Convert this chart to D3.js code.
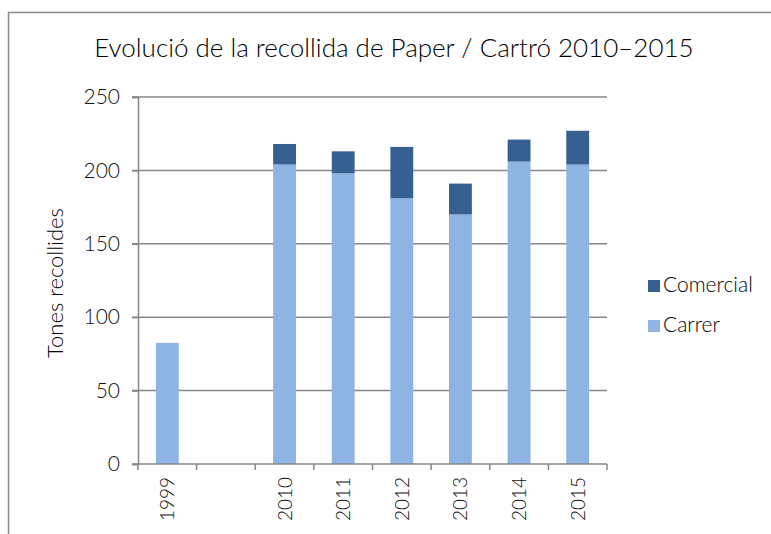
<!DOCTYPE html>
<html>
<head>
<meta charset="utf-8">
<script src="https://cdn.jsdelivr.net/npm/d3@7"></script>
<style>
	body { margin: 0; background: #fff; }
	svg { display: block; font-family: "Lato", sans-serif; font-weight: 300; }
</style>
</head>
<body>
<script>
const w = 771;
const h = 534;

const years = ["1999", "", "2010", "2011", "2012", "2013", "2014", "2015"];
const carrer = [82.5, 0, 204, 198, 181, 170, 206, 204];
const comercial = [0, 0, 14, 15, 35, 21, 15, 23];
const yTicks = [0, 50, 100, 150, 200, 250];
const seriesNames = ["Comercial", "Carrer"];
const colors = { Carrer: "#8eb4e3", Comercial: "#366092" };

const rows = years.map((y, i) => ({ year: y, Carrer: carrer[i], Comercial: comercial[i] }));

const plot = { left: 138, right: 607, top: 97, bottom: 464 };

const svg = d3.select("body").append("svg").attr("width", w).attr("height", h);

// * frame
svg.append("rect")
	.attr("x", 8.5).attr("y", 12.5)
	.attr("width", w).attr("height", h)
	.attr("fill", "none").attr("stroke", "#8c8c8c").attr("stroke-width", 1.5);

// * title
svg.append("text")
	.attr("x", 394).attr("y", 57)
	.attr("text-anchor", "middle")
	.attr("font-size", 26)
	.attr("fill", "#000")
	.text("Evolució de la recollida de Paper / Cartró 2010–2015");

// * scales
const xScale = d3.scaleBand()
	.domain(d3.range(years.length))
	.range([plot.left, plot.right])
	.paddingInner(0.61)
	.paddingOuter(0.305);

const yScale = d3.scaleLinear().domain([0, 250]).range([plot.bottom, plot.top]);

// * grid
svg.append("g")
	.selectAll("line")
	.data(yTicks.slice(1))
	.enter()
	.append("line")
	.attr("x1", plot.left - 6).attr("x2", plot.right)
	.attr("y1", (d) => yScale(d)).attr("y2", (d) => yScale(d))
	.attr("stroke", "#878787").attr("stroke-width", 1.5);

// * y axis
const yAxis = d3.axisLeft(yScale).tickValues(yTicks).tickSize(6).tickPadding(12);
const gy = svg.append("g").attr("transform", "translate(" + plot.left + ",0)").call(yAxis);
gy.selectAll("path, line").attr("stroke", "#878787").attr("stroke-width", 1.5);
gy.selectAll("text").attr("font-size", 21).attr("fill", "#111").attr("font-family", "Lato").attr("font-weight", 300);

// * bars
const stack = d3.stack().keys(["Carrer", "Comercial"]);
svg.append("g")
	.selectAll("g")
	.data(stack(rows))
	.enter()
	.append("g")
	.attr("fill", (d) => colors[d.key])
	.selectAll("rect")
	.data((d) => d)
	.enter()
	.append("rect")
	.attr("x", (d, i) => xScale(i))
	.attr("width", xScale.bandwidth())
	.attr("y", (d) => yScale(d[1]))
	.attr("height", (d) => yScale(d[0]) - yScale(d[1]));

// * x axis
const step = xScale.step();
const gx = svg.append("g").attr("transform", "translate(0," + plot.bottom + ")");
gx.append("line")
	.attr("x1", plot.left - 6).attr("x2", plot.right)
	.attr("stroke", "#878787").attr("stroke-width", 1.5);
gx.selectAll("line.tick")
	.data(d3.range(years.length + 1))
	.enter()
	.append("line")
	.attr("class", "tick")
	.attr("x1", (d) => plot.left + d * step).attr("x2", (d) => plot.left + d * step)
	.attr("y1", 0).attr("y2", 6)
	.attr("stroke", "#878787").attr("stroke-width", 1.5);
gx.selectAll("text")
	.data(years)
	.enter()
	.append("text")
	.attr("transform", (d, i) => "translate(" + (xScale(i) + xScale.bandwidth() / 2 + 7) + ",13) rotate(-90)")
	.attr("text-anchor", "end")
	.attr("font-size", 19)
	.attr("fill", "#111")
	.text((d) => d);

// * y label
svg.append("text")
	.attr("transform", "translate(63,283) rotate(-90)")
	.attr("text-anchor", "middle")
	.attr("font-size", 22)
	.attr("fill", "#000")
	.text("Tones recollides");

// * legend
const legend = svg.append("g")
	.selectAll("g")
	.data(seriesNames)
	.enter()
	.append("g")
	.attr("transform", (d, i) => "translate(648," + (280 + i * 40) + ")");
legend.append("rect").attr("width", 12).attr("height", 12).attr("fill", (d) => colors[d]);
legend.append("text")
	.attr("x", 15).attr("y", 12)
	.attr("font-size", 21)
	.attr("fill", "#000")
	.text((d) => d);
</script>
</body>
</html>
